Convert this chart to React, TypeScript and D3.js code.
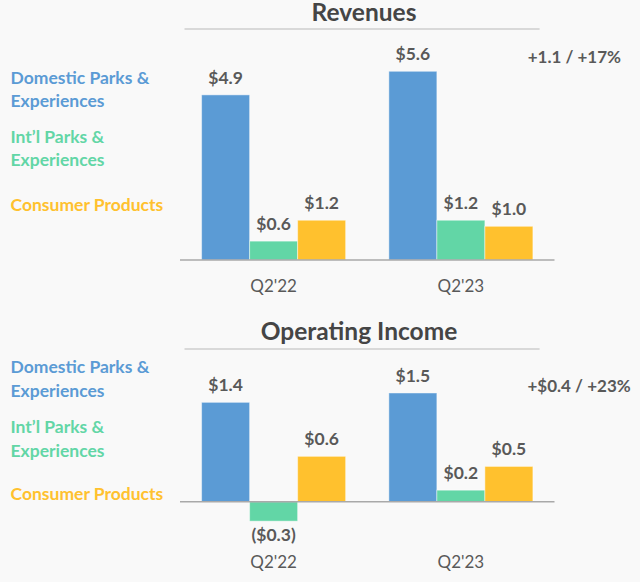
import React from "react";
import * as d3 from "d3";

const categories = ["Q2'22", "Q2'23"];
const segments = ["Domestic Parks & Experiences", "Int’l Parks & Experiences", "Consumer Products"];
const legendLines = [["Domestic Parks &", "Experiences"], ["Int’l Parks &", "Experiences"], ["Consumer Products"]];

const revenueDomestic = [4.9, 5.6];
const revenueIntl = [0.56, 1.18];
const revenueConsumer = [1.18, 1.0];

const incomeDomestic = [1.38, 1.51];
const incomeIntl = [-0.27, 0.16];
const incomeConsumer = [0.63, 0.49];

const panelTitles = ["Revenues", "Operating Income"];
const panelChanges = ["+1.1 / +17%", "+$0.4 / +23%"];

const colors = ["#5B9BD5", "#62D6A6", "#FFC12E"];
const FONT = "Lato, 'Open Sans', sans-serif";
const W = 640;
const H = 582;

const fmt = d3.format("($.1f");

type Panel = {
  title: string;
  change: string;
  series: number[][];
  yDomain: [number, number];
  zeroY: number;
  pxPerUnit: number;
  titleY: number;
  titleX: number;
  ruleY: number;
  changeX: number;
  changeY: number;
  legendY: number[][];
  catY: number;
};

const panels: Panel[] = [
  {
    title: panelTitles[0],
    change: panelChanges[0],
    series: [revenueDomestic, revenueIntl, revenueConsumer],
    yDomain: [0, 6],
    zeroY: 260,
    pxPerUnit: 33.7,
    titleY: 21,
    titleX: 364,
    ruleY: 29,
    changeX: 621,
    changeY: 63.3,
    legendY: [[84, 106.7], [143.3, 166], [210.7]],
    catY: 291.7,
  },
  {
    title: panelTitles[1],
    change: panelChanges[1],
    series: [incomeDomestic, incomeIntl, incomeConsumer],
    yDomain: [-0.48, 2],
    zeroY: 501.7,
    pxPerUnit: 72,
    titleY: 340,
    titleX: 359,
    ruleY: 349,
    changeX: 630.7,
    changeY: 391.7,
    legendY: [[372.7, 396.7], [432.7, 456.7], [500]],
    catY: 568.3,
  },
];

const x0 = d3.scaleBand<string>().domain(categories).range([180, 554.5]).padding(0);
const x1 = d3.scaleBand<string>().domain(segments).range([0, x0.bandwidth()]).paddingInner(0).paddingOuter(0.45);

function PanelView({ p }: { p: Panel }) {
  const y = d3
    .scaleLinear()
    .domain(p.yDomain)
    .range([p.zeroY - p.yDomain[0] * p.pxPerUnit, p.zeroY - p.yDomain[1] * p.pxPerUnit]);
  const bottom = y(p.yDomain[0]);
  return (
    <g>
      <text x={p.titleX} y={p.titleY} textAnchor="middle" fontFamily={FONT} fontWeight={700} fontSize={24.5} fill="#454545">
        {p.title}
      </text>
      <line x1={184.5} x2={539.6} y1={p.ruleY} y2={p.ruleY} stroke="#d9d9d9" strokeWidth={2} />
      <text x={p.changeX} y={p.changeY} textAnchor="end" fontFamily={FONT} fontWeight={700} fontSize={17} fill="#595959">
        {p.change}
      </text>
      {legendLines.map((lines, i) =>
        lines.map((ln, j) => (
          <text key={`${i}-${j}`} x={10.5} y={p.legendY[i][j]} fontFamily={FONT} fontWeight={700} fontSize={17.5} fill={colors[i]}>
            {ln}
          </text>
        ))
      )}
      {categories.map((c, ci) => (
        <g key={c} transform={`translate(${x0(c)},0)`}>
          {segments.map((s, si) => {
            const v = p.series[si][ci];
            const top = y(Math.max(0, v));
            const h = Math.abs(y(v) - y(0));
            const cx = (x1(s) as number) + x1.bandwidth() / 2;
            return (
              <g key={s}>
                <rect x={x1(s)} y={top} width={x1.bandwidth()} height={h} fill={colors[si]} stroke="#ffffff" strokeOpacity={0.45} strokeWidth={1} />
                <text
                  x={cx}
                  y={v >= 0 ? y(v) - 11 : y(v) + 20}
                  textAnchor="middle"
                  fontFamily={FONT}
                  fontWeight={700}
                  fontSize={17.5}
                  fill="#595959"
                >
                  {fmt(v)}
                </text>
              </g>
            );
          })}
          <text x={x0.bandwidth() / 2} y={bottom + 31.7} textAnchor="middle" fontFamily={FONT} fontSize={17} fill="#595959">
            {c}
          </text>
        </g>
      ))}
      <line x1={180} x2={554.5} y1={y(0)} y2={y(0)} stroke="#a9a9a9" strokeWidth={1.5} />
    </g>
  );
}

export default function App() {
  return (
    <svg width={W} height={H} style={{ position: "fixed", left: 0, top: 0, background: "#f9f9f9" }}>
      <rect width={W} height={H} fill="#f9f9f9" />
      {panels.map((p) => (
        <PanelView key={p.title} p={p} />
      ))}
    </svg>
  );
}
